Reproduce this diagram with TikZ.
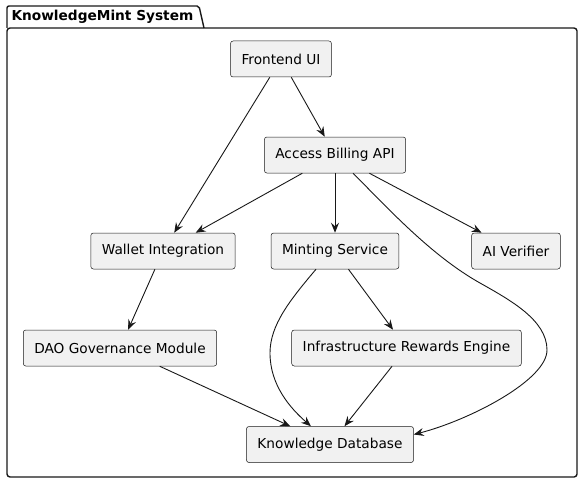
\documentclass[tikz,border=0pt]{standalone}
\usepackage{fontspec}
\setmainfont{DejaVu Sans}
\usetikzlibrary{arrows.meta}
\definecolor{boxfill}{HTML}{F1F1F1}
\definecolor{linecol}{HTML}{181818}
\tikzset{
  comp/.style={draw=linecol, fill=boxfill, line width=0.5pt, rounded corners=2.5pt,
    minimum height=36pt, inner xsep=11pt, font=\fontsize{13.7}{16}\selectfont},
  arr/.style={draw=linecol, line width=0.9pt, -{Stealth[length=10pt,width=8pt,inset=3.5pt]}}
}
\begin{document}
\begin{tikzpicture}[x=1pt,y=-1pt]
\useasboundingbox (0,0) rectangle (583,484);

\draw[linecol, line width=1.4pt, rounded corners=2pt] (7,28) -- (7,6) -- (199,6) -- (204,28);
\draw[linecol, line width=1.4pt, rounded corners=3pt] (7,28) rectangle (577,477);
\node[anchor=west, font=\fontsize{13.7}{16}\selectfont\bfseries] (title) at (8,17) {KnowledgeMint System};

\node[comp] (front) at (281,59) {Frontend UI};
\node[comp] (access) at (335,155) {Access Billing API};
\node[comp] (wallet) at (163,251) {Wallet Integration};
\node[comp] (mint) at (335,251) {Minting Service};
\node[comp] (aiver) at (516,251) {AI Verifier};
\node[comp] (dao) at (120,348) {DAO Governance Module};
\node[comp] (infra) at (406.5,348) {Infrastructure Rewards Engine};
\node[comp] (kdb) at (330,444.5) {Knowledge Database};

\draw[arr] (front) -- (wallet);
\draw[arr] (front) -- (access);
\draw[arr] (access) -- (wallet);
\draw[arr] (access) -- (mint);
\draw[arr] (access) -- (aiver);
\draw[arr] ([xshift=18pt]access.south) .. controls (385,205) and (430,255) .. (480,283)
  .. controls (510,300) and (547,320) .. (547,350)
  .. controls (547,380) and (470,420) .. ([yshift=10pt]kdb.east);
\draw[arr] (wallet) -- (dao);
\draw[arr] ([xshift=-19pt]mint.south) .. controls (290,300) and (270,325) .. (270,353)
  .. controls (270,385) and (290,408) .. ([xshift=-19pt]kdb.north);
\draw[arr] (mint) -- (infra);
\draw[arr] (infra) -- (kdb);
\draw[arr] (dao) -- (kdb);
\end{tikzpicture}
\end{document}
